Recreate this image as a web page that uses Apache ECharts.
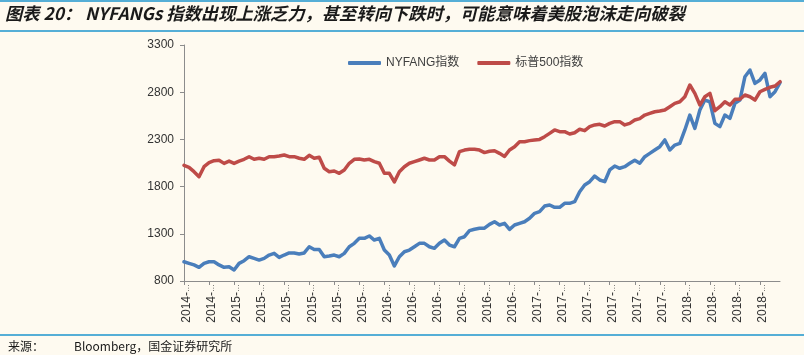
<!DOCTYPE html>
<html>
<head>
<meta charset="utf-8">
<script src="https://cdn.jsdelivr.net/npm/echarts@6/dist/echarts.min.js"></script>
<style>
html,body{margin:0;padding:0;background:#FEFAF0;}
#c{width:804px;height:355px;}
</style>
</head>
<body>
<div id="c"></div>
<script>
// Tick labels (one per labelled category, every 5th point)
const tickYears = ['2014','2014','2015','2015','2015','2015','2015','2015',
  '2016','2016','2016','2016','2016','2016','2017','2017','2017','2017','2017','2017',
  '2018','2018','2018','2018'];

// NYFANG index
const nyfang = [1004,987,970,945,987,1004,1004,970,945,951,
  917,987,1015,1057,1040,1022,1040,1075,1093,1050,
  1075,1097,1097,1086,1097,1163,1134,1134,1057,1064,
  1075,1057,1093,1163,1199,1252,1252,1277,1234,1252,
  1128,1075,960,1057,1110,1128,1163,1199,1199,1163,
  1146,1199,1234,1181,1163,1252,1269,1333,1348,1358,
  1360,1400,1428,1393,1411,1347,1393,1411,1428,1464,
  1517,1535,1594,1605,1580,1580,1623,1623,1640,1746,
  1817,1852,1912,1870,1852,1976,2018,1994,2011,2047,
  2080,2047,2117,2152,2188,2223,2294,2188,2240,2258,
  2400,2558,2417,2611,2717,2699,2470,2435,2558,2523,
  2682,2717,2964,3035,2894,2930,3000,2752,2805,2900];

// S&P 500 index
const spx = [2025,2004,1958,1905,2011,2053,2074,2080,2046,2070,
  2046,2070,2089,2117,2089,2100,2089,2117,2117,2124,
  2135,2117,2117,2100,2089,2131,2100,2110,1994,1958,
  1965,1941,1976,2047,2089,2093,2082,2089,2064,2047,
  1941,1941,1850,1958,2011,2047,2064,2082,2100,2082,
  2082,2117,2117,2070,2030,2170,2187,2195,2195,2187,
  2160,2175,2180,2152,2120,2188,2223,2276,2276,2287,
  2294,2300,2329,2364,2400,2382,2382,2357,2371,2407,
  2393,2435,2453,2460,2442,2470,2488,2488,2453,2470,
  2505,2520,2558,2576,2593,2600,2611,2646,2682,2699,
  2752,2876,2788,2664,2752,2788,2604,2646,2699,2664,
  2725,2725,2770,2752,2717,2805,2830,2852,2866,2911];

const STEP = 5;
const categories = nyfang.map((v, i) => tickYears[Math.min(Math.floor(i / STEP), tickYears.length - 1)]);

const chart = echarts.init(document.getElementById('c'), null, {renderer: 'canvas'});
const LINE = '#55AED6';
chart.setOption({
  backgroundColor: '#FEFAF0',
  animation: false,
  grid: {left: 184, right: 24, top: 45, bottom: 74, containLabel: false, outerBoundsMode: 'none'},
  legend: {
    left: 343, top: 52,
    icon: 'roundRect',
    itemWidth: 33, itemHeight: 4, itemGap: 18,
    textStyle: {fontSize: 12, color: '#404040', fontFamily: "'Liberation Sans','Noto Sans CJK SC'"},
    data: ['NYFANG指数', '标普500指数']
  },
  xAxis: {
    type: 'category',
    data: categories,
    boundaryGap: false,
    axisLine: {lineStyle: {color: '#8C8C8C', width: 1}},
    axisTick: {show: true, length: 4, interval: (i) => i % STEP === 0, lineStyle: {color: '#8C8C8C'}},
    axisLabel: {
      interval: (i) => i % STEP === 0,
      rotate: 90, margin: 3,
      padding: [6, 0, 0, 0],
      formatter: (v) => '{y|' + v + '-}{d|…}',
      rich: {
        y: {fontSize: 12, color: '#333', fontFamily: "'Liberation Sans'"},
        d: {fontSize: 8, color: '#333', fontFamily: "'Liberation Sans'"}
      }
    },
    splitLine: {show: false}
  },
  yAxis: {
    type: 'value', min: 800, max: 3300, interval: 500,
    axisLine: {show: true, lineStyle: {color: '#8C8C8C', width: 1}},
    axisTick: {show: true, length: 4, lineStyle: {color: '#8C8C8C'}},
    axisLabel: {fontSize: 12, color: '#333', margin: 10, fontFamily: "'Liberation Sans'",
      formatter: (v) => String(v)},
    splitLine: {show: false}
  },
  series: [
    {name: 'NYFANG指数', type: 'line', data: nyfang, symbol: 'none', showSymbol: false,
     lineStyle: {color: '#4A7EBB', width: 3.5, cap: 'round', join: 'round'}, itemStyle: {color: '#4A7EBB'}},
    {name: '标普500指数', type: 'line', data: spx, symbol: 'none', showSymbol: false,
     lineStyle: {color: '#BE4B48', width: 3.5, cap: 'round', join: 'round'}, itemStyle: {color: '#BE4B48'}}
  ],
  graphic: [
    {type: 'rect', left: 0, top: 0, shape: {width: 804, height: 2}, style: {fill: LINE}, silent: true},
    {type: 'rect', left: 0, top: 30, shape: {width: 804, height: 2}, style: {fill: LINE}, silent: true},
    {type: 'rect', left: 0, top: 334, shape: {width: 804, height: 2}, style: {fill: LINE}, silent: true},
    {type: 'text', left: 5, top: 5, silent: true,
     style: {text: '图表 20： NYFANGs 指数出现上涨乏力，甚至转向下跌时，可能意味着美股泡沫走向破裂',
       font: "italic bold 17.3px 'Noto Sans CJK SC'", fill: '#1A1A1A'}},
    {type: 'text', left: 8, top: 340, silent: true,
     style: {text: '来源：', font: "12px 'Noto Sans CJK SC'", fill: '#1A1A1A'}},
    {type: 'text', left: 74, top: 340, silent: true,
     style: {text: 'Bloomberg，国金证券研究所', font: "12px 'Noto Sans CJK SC'", fill: '#1A1A1A'}}
  ]
});
</script>
</body>
</html>
